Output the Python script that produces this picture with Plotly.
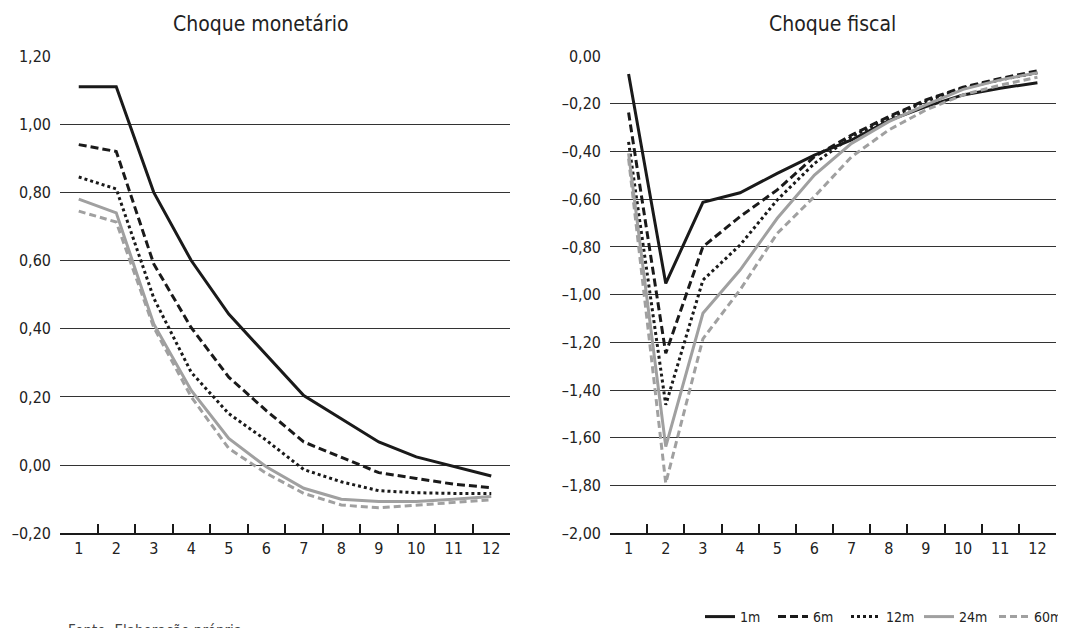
import plotly.graph_objects as go

categories = [str(i) for i in range(1, 13)]
series_names = ["1m", "6m", "12m", "24m", "60m"]

# Choque monetário
mon_1m = [1.11, 1.11, 0.80, 0.60, 0.443, 0.322, 0.204, 0.136, 0.068, 0.024, -0.005, -0.032]
mon_6m = [0.94, 0.92, 0.59, 0.403, 0.258, 0.160, 0.068, 0.024, -0.022, -0.039, -0.056, -0.066]
mon_12m = [0.845, 0.81, 0.49, 0.272, 0.151, 0.073, -0.013, -0.049, -0.075, -0.081, -0.083, -0.083]
mon_24m = [0.78, 0.74, 0.414, 0.219, 0.078, -0.005, -0.068, -0.100, -0.107, -0.107, -0.100, -0.092]
mon_60m = [0.745, 0.713, 0.404, 0.200, 0.049, -0.024, -0.083, -0.117, -0.125, -0.117, -0.110, -0.102]

# Choque fiscal
fis_1m = [-0.075, -0.953, -0.613, -0.573, -0.492, -0.415, -0.352, -0.271, -0.212, -0.163, -0.135, -0.112]
fis_6m = [-0.237, -1.246, -0.799, -0.673, -0.561, -0.422, -0.331, -0.254, -0.184, -0.131, -0.094, -0.062]
fis_12m = [-0.36, -1.462, -0.939, -0.792, -0.603, -0.450, -0.338, -0.260, -0.190, -0.135, -0.100, -0.070]
fis_24m = [-0.408, -1.637, -1.078, -0.897, -0.680, -0.499, -0.366, -0.275, -0.205, -0.140, -0.100, -0.070]
fis_60m = [-0.43, -1.790, -1.185, -0.980, -0.743, -0.589, -0.422, -0.310, -0.226, -0.163, -0.122, -0.089]

mon_tickvals = [-0.2, 0.0, 0.2, 0.4, 0.6, 0.8, 1.0, 1.2]
mon_ticktext = ["\u20130,20", "0,00", "0,20", "0,40", "0,60", "0,80", "1,00", "1,20"]
fis_tickvals = [-2.0, -1.8, -1.6, -1.4, -1.2, -1.0, -0.8, -0.6, -0.4, -0.2, 0.0]
fis_ticktext = ["\u20132,00", "\u20131,80", "\u20131,60", "\u20131,40", "\u20131,20", "\u20131,00",
                "\u20130,80", "\u20130,60", "\u20130,40", "\u20130,20", "0,00"]

titles = ["Choque monet\u00e1rio", "Choque fiscal"]
source_text = "Fonte: Elabora\u00e7\u00e3o pr\u00f3pria."

BLACK = "#1a1a1a"
GRAY = "#a0a0a0"
styles = [
    dict(color=BLACK, dash="solid"),
    dict(color=BLACK, dash="8px,4px"),
    dict(color=BLACK, dash="3px,3px"),
    dict(color=GRAY, dash="solid"),
    dict(color=GRAY, dash="7px,4px"),
]
legend_ids = ["legend", "legend", "legend", "legend", "legend2"]
FONT = "DejaVu Sans Condensed, DejaVu Sans, sans-serif"

fig = go.Figure()
mon = [mon_1m, mon_6m, mon_12m, mon_24m, mon_60m]
fis = [fis_1m, fis_6m, fis_12m, fis_24m, fis_60m]
for name, vals, st in zip(series_names, mon, styles):
    fig.add_trace(go.Scatter(x=categories, y=vals, mode="lines", name=name,
                             line=dict(color=st["color"], dash=st["dash"], width=3),
                             xaxis="x", yaxis="y", showlegend=False))
for name, vals, st, lg in zip(series_names, fis, styles, legend_ids):
    fig.add_trace(go.Scatter(x=categories, y=vals, mode="lines", name=name,
                             line=dict(color=st["color"], dash=st["dash"], width=3),
                             xaxis="x2", yaxis="y2", showlegend=True, legend=lg))

# The page body has an 8px default margin; size the figure to the visible area
OFF = 8
W, H = 1066 - OFF, 628 - OFF
def px_x(p):
    return (p - OFF) / W
def px_y(p):
    return 1 - (p - OFF) / H

common_x = dict(type="category", range=[-0.5, 11.5], showgrid=False, showline=True,
                linecolor=BLACK, linewidth=1.5,
                ticks="inside", tickson="boundaries", ticklen=10, tickcolor=BLACK, tickwidth=1.5,
                tickfont=dict(size=16, color="#222"), fixedrange=True)
common_y = dict(showgrid=True, gridcolor="#333", gridwidth=1, zeroline=False, showline=False,
                ticks="", tickfont=dict(size=16, color="#222"), ticklabelstandoff=8)

leg_common = dict(orientation="h", xanchor="left", yanchor="top",
                  font=dict(size=14, color="#222"), itemwidth=30,
                  entrywidth=28, entrywidthmode="pixels", bgcolor="rgba(0,0,0,0)")

fig.update_layout(
    width=W, height=H,
    margin=dict(l=0, r=0, t=0, b=0, autoexpand=False),
    paper_bgcolor="white", plot_bgcolor="white",
    font=dict(family=FONT, color="#222"),
    xaxis=dict(domain=[px_x(60), px_x(510)], anchor="y", **common_x),
    yaxis=dict(domain=[px_y(533.3), px_y(56)], anchor="x", range=[-0.2, 1.2],
               tickvals=mon_tickvals, ticktext=mon_ticktext, **common_y),
    xaxis2=dict(domain=[px_x(610), px_x(1056)], anchor="y2", **common_x),
    yaxis2=dict(domain=[px_y(533.3), px_y(56)], anchor="x2", range=[-2.0, 0.0],
                tickvals=fis_tickvals, ticktext=fis_ticktext, **common_y),
    legend=dict(x=px_x(700), y=px_y(601), **leg_common),
    legend2=dict(x=px_x(700 + 4 * 73.5), y=px_y(601), **leg_common),
    showlegend=True,
)

fig.add_annotation(text=titles[0], x=px_x(260), y=px_y(24), xref="paper", yref="paper",
                   showarrow=False, font=dict(size=21, color="#222"), xanchor="center", yanchor="middle")
fig.add_annotation(text=titles[1], x=px_x(832), y=px_y(24), xref="paper", yref="paper",
                   showarrow=False, font=dict(size=21, color="#222"), xanchor="center", yanchor="middle")
fig.add_annotation(text=source_text, x=px_x(66), y=px_y(620), xref="paper", yref="paper",
                   showarrow=False, font=dict(size=15, color="#444"), xanchor="left", yanchor="top")

fig.write_html("out.html")
